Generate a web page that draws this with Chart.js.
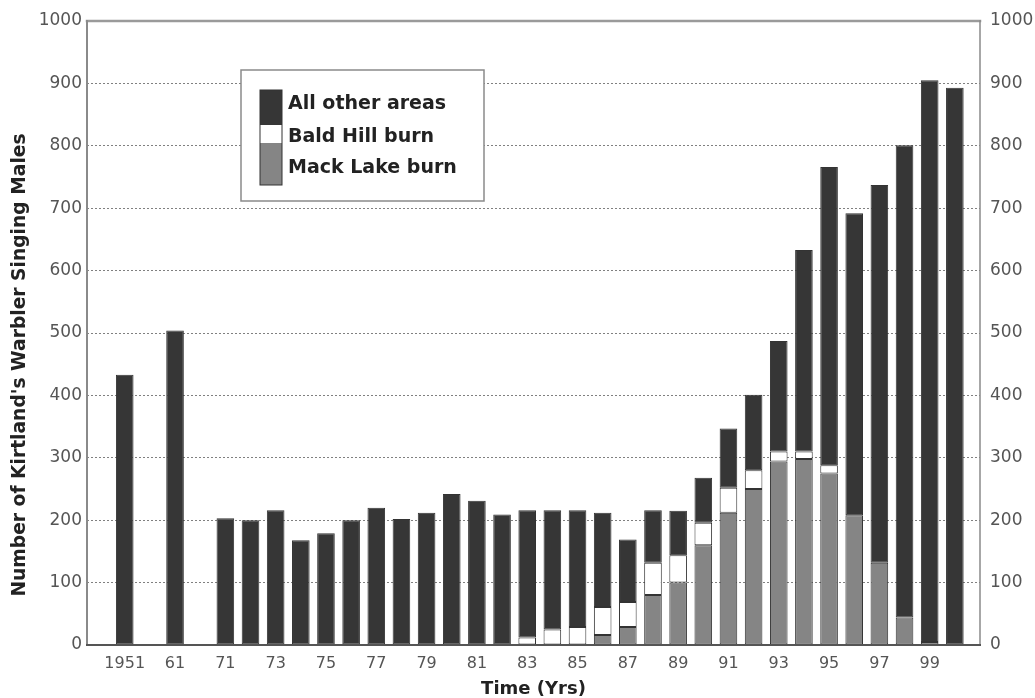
<!DOCTYPE html>
<html>
<head>
<meta charset="utf-8">
<script src="https://cdn.jsdelivr.net/npm/chart.js@4/dist/chart.umd.min.js"></script>
<style>
  body { margin: 0; background: #fff; }
  #wrap { width: 1035px; height: 698px; position: relative; }
</style>
</head>
<body>
<div id="wrap"><canvas id="chart"></canvas></div>
<script>
// survey years (1951 and 1961, then every year 1971-2000)
var years = [1951, 1961, 1971, 1972, 1973, 1974, 1975, 1976, 1977, 1978, 1979, 1980,
  1981, 1982, 1983, 1984, 1985, 1986, 1987, 1988, 1989, 1990, 1991, 1992, 1993,
  1994, 1995, 1996, 1997, 1998, 1999, 2000];

// singing males by area
var mackLake = [0, 0, 0, 0, 0, 0, 0, 0, 0, 0, 0, 0,
  0, 0, 0, 0, 0, 16, 29, 80, 100, 160, 212, 250, 294,
  298, 275, 208, 132, 44, 5, 0];
var baldHill = [0, 0, 0, 0, 0, 0, 0, 0, 0, 0, 0, 0,
  0, 0, 12, 25, 29, 45, 40, 52, 44, 36, 40, 30, 16,
  12, 13, 0, 0, 0, 0, 0];
var otherAreas = [433, 504, 203, 200, 216, 168, 179, 200, 220, 202, 212, 242,
  231, 209, 204, 191, 187, 151, 100, 84, 71, 72, 95, 121, 177,
  323, 478, 484, 605, 757, 900, 893];

// x tick labels
var tickYears = [1951, 1961, 1971, 1973, 1975, 1977, 1979, 1981, 1983, 1985, 1987,
  1989, 1991, 1993, 1995, 1997, 1999];
var tickLabels = ['1951', '61', '71', '73', '75', '77', '79', '81', '83', '85', '87',
  '89', '91', '93', '95', '97', '99'];

var seriesNames = ['Mack Lake burn', 'Bald Hill burn', 'All other areas'];
var seriesColors = ['#858585', '#ffffff', '#363636'];
var yTitle = "Number of Kirtland's Warbler Singing Males";

// 1951 and 1961 sit two slots apart, yearly from 1971
function slot(year) {
  return year < 1971 ? (year - 1951) / 5 : year - 1967;
}

function points(values) {
  return years.map(function (y, i) {
    return { x: slot(y), y: values[i] || null };
  });
}

var tickFont = { family: 'DejaVu Sans', size: 16 };
var yTickFont = { family: 'DejaVu Sans', size: 17 };
var titleFont = { family: 'DejaVu Sans', size: 18, weight: 'bold', lineHeight: 1 };

function plain(v) { return String(v); }

// frame around the plot, y title and boxed legend
var framePlugin = {
  id: 'frame',
  afterDatasetsDraw: function (chart) {
    var ctx = chart.ctx;
    var a = chart.chartArea;
    ctx.save();
    ctx.lineCap = 'square';
    ctx.strokeStyle = '#9a9a9a';
    ctx.lineWidth = 2.5;
    ctx.beginPath(); ctx.moveTo(a.left, a.top); ctx.lineTo(a.right, a.top); ctx.stroke();
    ctx.lineWidth = 2;
    ctx.strokeStyle = '#8a8a8a';
    ctx.beginPath(); ctx.moveTo(a.left, a.top); ctx.lineTo(a.left, a.bottom); ctx.stroke();
    ctx.lineWidth = 1.5;
    ctx.beginPath(); ctx.moveTo(a.right, a.top); ctx.lineTo(a.right, a.bottom); ctx.stroke();
    ctx.strokeStyle = '#555';
    ctx.lineWidth = 2;
    ctx.beginPath(); ctx.moveTo(a.left, a.bottom); ctx.lineTo(a.right, a.bottom); ctx.stroke();

    // y title, sits a little below the middle like the original
    ctx.save();
    ctx.translate(20, 365);
    ctx.rotate(-Math.PI / 2);
    ctx.fillStyle = '#222';
    ctx.font = 'bold 18.7px "DejaVu Sans"';
    ctx.textAlign = 'center';
    ctx.textBaseline = 'middle';
    ctx.fillText(yTitle, 0, 0);
    ctx.restore();

    // legend
    var bx = a.left + 154, by = a.top + 49, bw = 243, bh = 131;
    ctx.fillStyle = '#fff';
    ctx.fillRect(bx, by, bw, bh);
    ctx.strokeStyle = '#8a8a8a';
    ctx.lineWidth = 1.5;
    ctx.strokeRect(bx, by, bw, bh);

    var sx = bx + 19, sw = 22;
    var segs = [[by + 20, 35], [by + 55, 18], [by + 73, 42]];
    var order = [2, 1, 0];
    order.forEach(function (k, j) {
      ctx.fillStyle = seriesColors[k];
      ctx.fillRect(sx, segs[j][0], sw, segs[j][1]);
    });
    ctx.strokeStyle = '#333';
    ctx.lineWidth = 1;
    ctx.strokeRect(sx, by + 20, sw, 95);

    ctx.fillStyle = '#222';
    ctx.font = 'bold 19px "DejaVu Sans"';
    ctx.textAlign = 'left';
    ctx.textBaseline = 'middle';
    var rows = [by + 34, by + 67, by + 98];
    order.forEach(function (k, j) {
      ctx.fillText(chart.data.datasets[k].label, sx + sw + 6, rows[j]);
    });
    ctx.restore();
  }
};

new Chart(document.getElementById('chart'), {
  type: 'bar',
  data: {
    datasets: seriesNames.map(function (name, k) {
      return {
        label: name,
        data: points([mackLake, baldHill, otherAreas][k]),
        backgroundColor: seriesColors[k],
        borderColor: '#333',
        borderWidth: 1,
        borderSkipped: false,
        barPercentage: 0.7,
        categoryPercentage: 1.0
      };
    })
  },
  options: {
    responsive: true,
    maintainAspectRatio: false,
    animation: false,
    layout: { padding: { top: 21 } },
    plugins: { legend: { display: false }, tooltip: { enabled: false } },
    scales: {
      x: {
        type: 'linear',
        stacked: true,
        offset: false,
        min: -1.5,
        max: 34,
        grid: { display: false, drawTicks: false },
        border: { display: false },
        afterBuildTicks: function (scale) {
          scale.ticks = tickYears.map(function (y) { return { value: slot(y) }; });
        },
        afterFit: function (scale) { scale.height = 53; },
        ticks: {
          autoSkip: false,
          maxRotation: 0,
          padding: 9,
          color: '#555',
          font: tickFont,
          callback: function (v) {
            var i = tickYears.map(slot).indexOf(v);
            return i < 0 ? '' : tickLabels[i];
          }
        },
        title: { display: true, text: 'Time (Yrs)', color: '#222', font: titleFont, padding: { top: 0, bottom: 0 } }
      },
      y: {
        stacked: true,
        min: 0,
        max: 1000,
        position: 'left',
        afterFit: function (scale) { scale.width = 87; },
        grid: { color: '#808080', lineWidth: 1, drawTicks: false },
        border: { display: false, dash: [2, 2] },
        ticks: { stepSize: 100, padding: 5, color: '#555', font: yTickFont, callback: plain }
      },
      y2: {
        min: 0,
        max: 1000,
        position: 'right',
        afterFit: function (scale) { scale.width = 55; },
        grid: { display: false, drawTicks: false },
        border: { display: false },
        ticks: { stepSize: 100, padding: 10, color: '#555', font: yTickFont, callback: plain }
      }
    }
  },
  plugins: [framePlugin]
});
</script>
</body>
</html>
